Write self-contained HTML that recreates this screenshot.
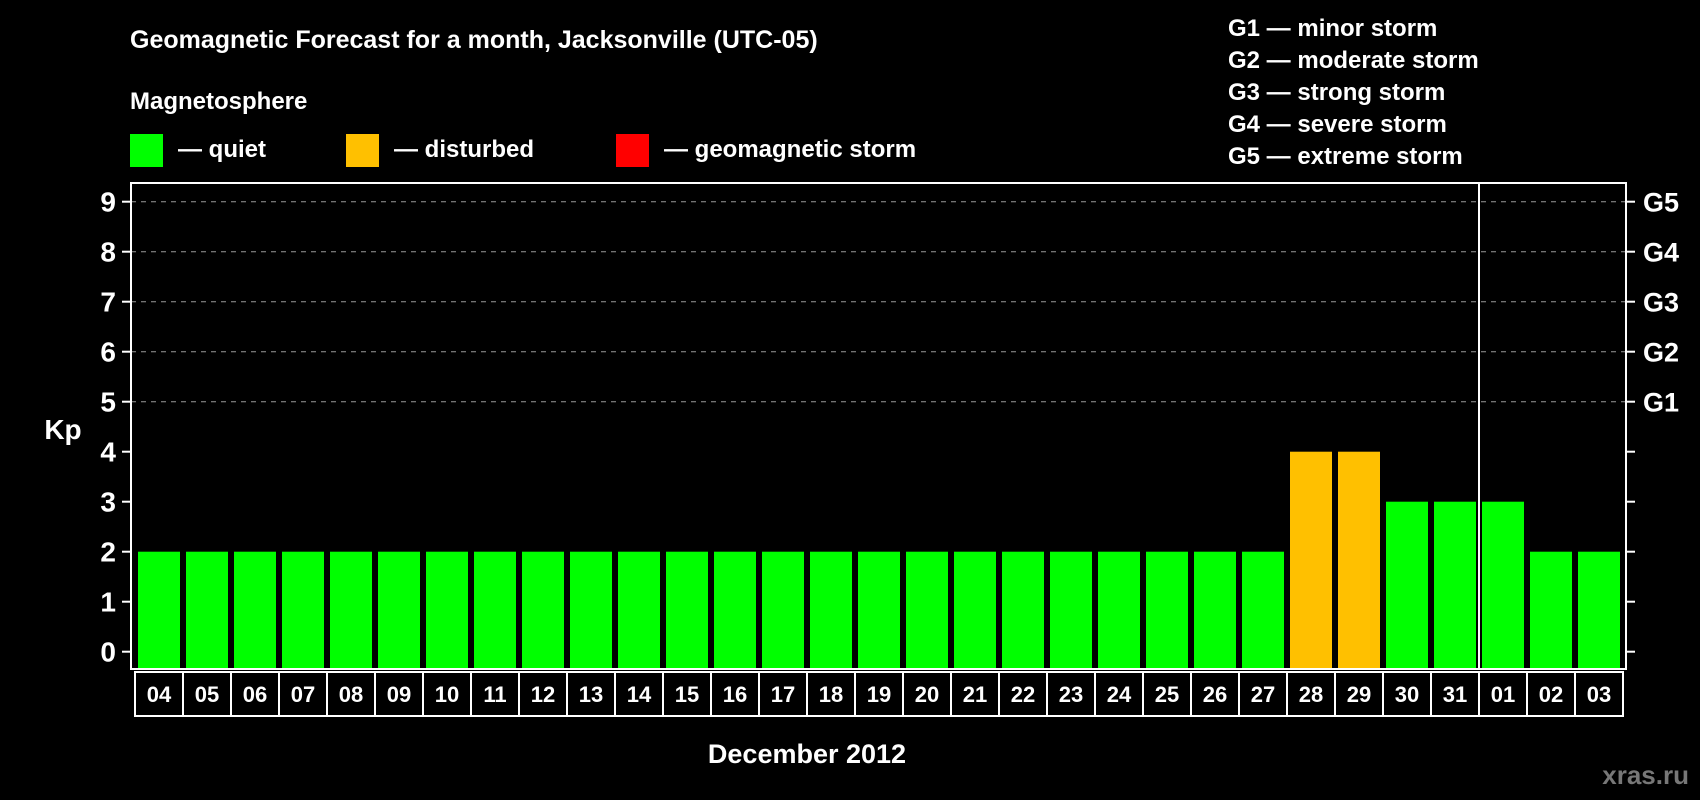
<!DOCTYPE html>
<html><head><meta charset="utf-8"><style>
html,body{margin:0;padding:0;background:#000;}
svg{display:block;font-family:"Liberation Sans",Arial,sans-serif;font-weight:bold;}
</style></head><body>
<svg id="chart" width="1700" height="800" viewBox="0 0 1700 800" xmlns="http://www.w3.org/2000/svg">
<rect width="1700" height="800" fill="#000"/>
<text x="130" y="48" fill="#fff" font-size="25">Geomagnetic Forecast for a month, Jacksonville (UTC-05)</text>
<text x="130" y="109" fill="#fff" font-size="24">Magnetosphere</text>
<g><rect x="130" y="134" width="33" height="33" fill="#00ff00"/><text x="178" y="157" fill="#fff" font-size="24">— quiet</text></g>
<g><rect x="346" y="134" width="33" height="33" fill="#ffc000"/><text x="394" y="157" fill="#fff" font-size="24">— disturbed</text></g>
<g><rect x="616" y="134" width="33" height="33" fill="#ff0000"/><text x="664" y="157" fill="#fff" font-size="24">— geomagnetic storm</text></g>
<g fill="#fff" font-size="24">
<text x="1228" y="36">G1 — minor storm</text>
<text x="1228" y="68">G2 — moderate storm</text>
<text x="1228" y="100">G3 — strong storm</text>
<text x="1228" y="132">G4 — severe storm</text>
<text x="1228" y="164">G5 — extreme storm</text>
</g>
<g id="grid"></g><g id="bars"></g><g id="axes"></g>
<text x="63" y="439" fill="#fff" font-size="28" text-anchor="middle">Kp</text>
<text x="807" y="763" fill="#fff" font-size="27" text-anchor="middle">December 2012</text>
<text x="1689" y="784" fill="#777" font-size="26" text-anchor="end">xras.ru</text>
</svg>
<script>
const days = ["04","05","06","07","08","09","10","11","12","13","14","15","16","17","18","19","20","21","22","23","24","25","26","27","28","29","30","31","01","02","03"];
const kp = [2,2,2,2,2,2,2,2,2,2,2,2,2,2,2,2,2,2,2,2,2,2,2,2,4,4,3,3,3,2,2];
const yTicks = [0,1,2,3,4,5,6,7,8,9];
const gLabels = ["G1","G2","G3","G4","G5"];
const gLevels = [5,6,7,8,9];
const NS="http://www.w3.org/2000/svg";
const L=131,R=1626,T=183,B=669,x0=138,pitch=48,bw=42;
const y=v=>651.7-v*50;
const x=i=>x0+i*pitch;
function mk(tag,attrs,parent,txt){const e=document.createElementNS(NS,tag);for(const k in attrs)e.setAttribute(k,attrs[k]);if(txt!==undefined)e.textContent=txt;parent.appendChild(e);return e;}
const grid=document.getElementById('grid'),bars=document.getElementById('bars'),axes=document.getElementById('axes');
gLevels.forEach(v=>{const l=mk('line',{x1:L,x2:R,y1:y(v),y2:y(v),stroke:'#999','stroke-width':1,'stroke-dasharray':'5,5'},grid);

});
kp.forEach((v,i)=>{const c=v>=5?'#ff0000':(v>=4?'#ffc000':'#00ff00');
const r=mk('rect',{x:x(i),y:y(v),width:bw,height:B-y(v)-1,fill:c},bars);

});
mk('rect',{x:L,y:T,width:R-L,height:B-T,fill:'none',stroke:'#fff','stroke-width':2},axes);
const sep=mk('line',{x1:x(28)-3,x2:x(28)-3,y1:T,y2:B,stroke:'#fff','stroke-width':2},axes);


yTicks.forEach(v=>{mk('line',{x1:L-9,x2:L,y1:y(v),y2:y(v),stroke:'#fff','stroke-width':2},axes);
mk('line',{x1:R,x2:R+9,y1:y(v),y2:y(v),stroke:'#fff','stroke-width':2},axes);
const t=mk('text',{x:116,y:y(v)+10,fill:'#fff','font-size':28,'text-anchor':'end'},axes,String(v));

});
gLabels.forEach((g,i)=>{const t=mk('text',{x:1643,y:y(gLevels[i])+10,fill:'#fff','font-size':27},axes,g);

});
mk('rect',{x:x(0)-3,y:672,width:days.length*pitch,height:44,fill:'none',stroke:'#fff','stroke-width':2},axes);
days.forEach((d,i)=>{if(i>0)mk('line',{x1:x(i)-3,x2:x(i)-3,y1:672,y2:716,stroke:'#fff','stroke-width':2},axes);
const t=mk('text',{x:x(i)+bw/2,y:702,fill:'#fff','font-size':22,'text-anchor':'middle'},axes,d);

});
</script>
</body></html>
